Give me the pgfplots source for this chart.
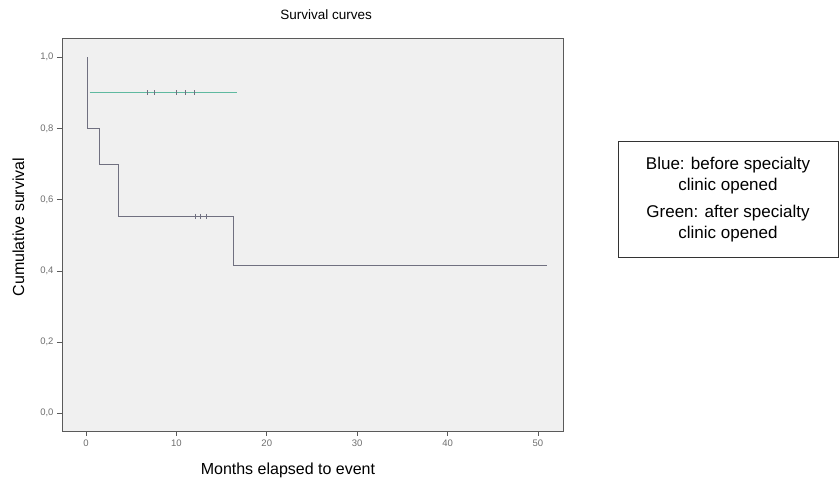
\documentclass[border=0pt]{standalone}
\usepackage{pgfplots}
\pgfplotsset{compat=1.18}
\usepackage{fontspec}
\setmainfont{Liberation Sans}

\definecolor{bluecurve}{RGB}{112,112,128}
\definecolor{greencurve}{RGB}{95,185,160}
\definecolor{plotbg}{RGB}{240,240,240}
\definecolor{framegray}{RGB}{90,90,90}
\definecolor{ticktext}{RGB}{110,110,110}

\begin{document}
\begin{tikzpicture}[x=1pt,y=1pt]
\path[use as bounding box] (0,0) rectangle (839,481);
\begin{axis}[
    at={(62pt,50pt)}, anchor=south west,
    scale only axis, width=501pt, height=393pt,
    xmin=-2.65, xmax=52.77,
    ymin=-0.05, ymax=1.054,
    xtick={0,10,20,30,40,50},
    ytick={0,0.2,0.4,0.6,0.8,1.0},
    yticklabel style={/pgf/number format/.cd, fixed, fixed zerofill, precision=1, use comma},
    /pgf/number format/assume math mode=true,
    tick align=outside,
    major tick length=5pt,
    tick style={color=framegray, line width=0.6pt},
    xtick pos=bottom, ytick pos=left,
    ticklabel style={font=\fontsize{9.5}{11}\selectfont, text=ticktext},
    axis line style={color=framegray, line width=0.8pt},
    axis background/.style={fill=plotbg},
    title={Survival curves},
    title style={at={(axis description cs:0.527,1)}, anchor=base, yshift=12pt, font=\fontsize{13.5}{15}\selectfont},
    xlabel={Months elapsed to event},
    xlabel style={at={(axis description cs:0.451,0)}, anchor=base, yshift=-44pt, font=\fontsize{16}{18}\selectfont},
    ylabel={Cumulative survival},
    ylabel style={at={(axis description cs:0,0.519)}, anchor=center, yshift=43.5pt, font=\fontsize{16}{18}\selectfont},
]
% before specialty clinic
\addplot[color=bluecurve, line width=0.9pt] coordinates {
    (0.2,1.0) (0.2,0.8) (1.5,0.8) (1.5,0.7) (3.6,0.7) (3.6,0.553)
    (16.3,0.553) (16.3,0.415) (51,0.415)};
\addplot[only marks, mark=|, mark size=2.5pt, color=bluecurve, line width=0.7pt] coordinates {
    (12.1,0.553) (12.6,0.553) (13.3,0.553)};
% after specialty clinic
\addplot[color=greencurve, line width=0.9pt] coordinates {
    (0.4,0.9) (16.7,0.9)};
\addplot[only marks, mark=|, mark size=2.5pt, color=bluecurve, line width=0.7pt] coordinates {
    (6.8,0.9) (7.6,0.9) (10,0.9) (11,0.9) (12,0.9)};
\end{axis}
\draw[line width=1pt, color=black!80] (618,223) rectangle (838,339);
\node[align=center, font=\fontsize{17}{21}\selectfont] at (728,281)
    {Blue: before specialty\\clinic opened\\[6pt]Green: after specialty\\clinic opened};
\end{tikzpicture}
\end{document}
